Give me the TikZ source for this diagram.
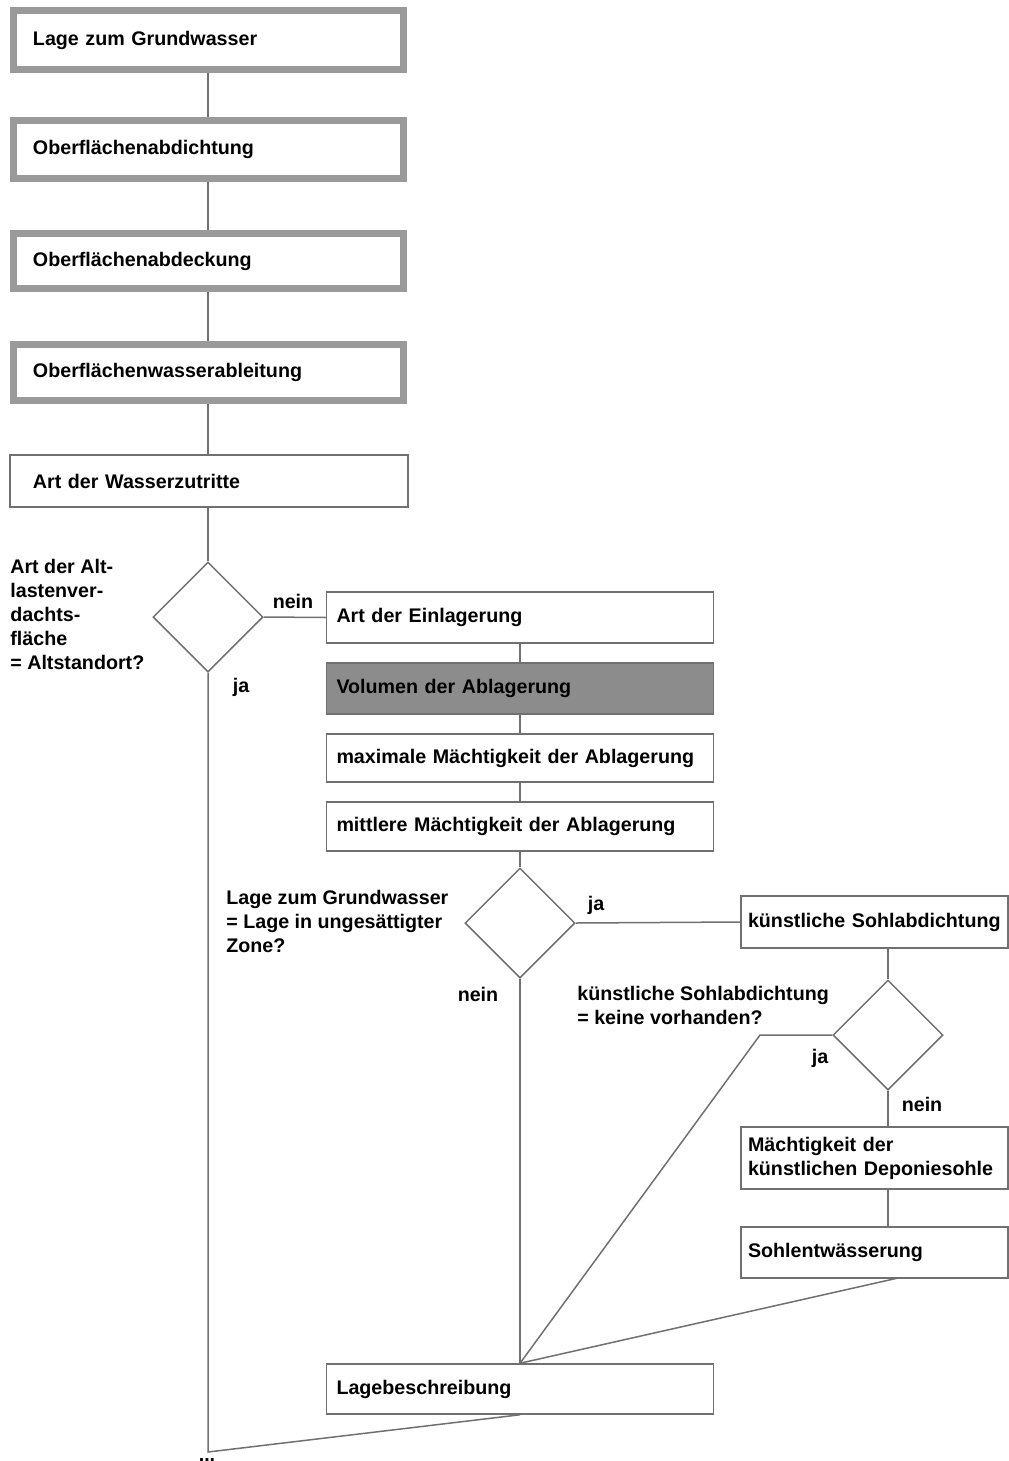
\documentclass[tikz,border=0pt]{standalone}
\usepackage{fontspec}
\setmainfont{Liberation Sans}
\usetikzlibrary{shapes.geometric}
\definecolor{framegray}{HTML}{9A9A9A}
\definecolor{linegray}{HTML}{707070}
\definecolor{fillgray}{HTML}{8C8C8C}
\begin{document}
\begin{tikzpicture}[x=0.2mm,y=-0.2mm,
	font=\fontsize{11.2}{13.6}\selectfont\bfseries,
	topbox/.style={
		rectangle, draw=framegray, line width=1.4mm, minimum height=11.6mm,
		text width=70.2mm, inner xsep=3.9mm, align=left
	},
	plainbox/.style={
		rectangle, draw=linegray, line width=0.3mm, minimum height=10.4mm,
		text width=70.4mm, inner xsep=4.6mm, align=left
	},
	midbox/.style={
		rectangle, draw=linegray, line width=0.3mm, minimum height=#1,
		text width=73.4mm, inner xsep=2mm, align=left
	},
	sidebox/.style={
		rectangle, draw=linegray, line width=0.3mm, minimum height=#1,
		text width=50.6mm, inner xsep=1.4mm, align=left
	},
	decision/.style={
		diamond, draw=linegray, line width=0.3mm, aspect=1,
		minimum size=22mm, inner sep=0pt
	},
	link/.style={draw=linegray, line width=0.3mm},
	note/.style={inner sep=0pt, align=left, anchor=north west}]
	% Frame of the page
	\useasboundingbox (0,0) rectangle (1009,1461);
	
	% Boxes of the left column
	\node[topbox] (LAGE) at (208.5,40) {Lage zum Grundwasser};
	\node[topbox] (ABDICHT) at (208.5,149.5) {Oberflächenabdichtung};
	\node[topbox, minimum height=11mm] (ABDECK) at (208.5,261) {Oberflächenabdeckung};
	\node[topbox, minimum height=11.2mm] (ABLEIT) at (208.5,372.5) {Oberflächenwasserableitung};
	\node[plainbox] (ZUTRITT) at (209,481) {Art der Wasserzutritte};
	
	% First question
	\node[decision] (Q1) at (208,617) {};
	\node[note] (Q1TEXT) at (10,559) {Art der Alt-\\lastenver-\\dachts-\\fläche\\= Altstandort?};
	\node (Q1NEIN) at (293,601) {nein};
	\node (Q1JA) at (241,687) {ja};
	
	% Boxes of the middle column
	\node[midbox=10.2mm] (EINLAG) at (520,617.5) {Art der Einlagerung};
	\node[midbox=10.2mm, fill=fillgray] (VOLUMEN) at (520,688.5) {Volumen der Ablagerung};
	\node[midbox=9.6mm] (MAXM) at (520,758) {maximale Mächtigkeit der Ablagerung};
	\node[midbox=9.8mm] (MITM) at (520,826.5) {mittlere Mächtigkeit der Ablagerung};
	\node[midbox=10mm] (LAGEBES) at (520,1389) {Lagebeschreibung};
	
	% Second question
	\node[decision] (Q2) at (520,923) {};
	\node[note] (Q2TEXT) at (226,890) {Lage zum Grundwasser\\= Lage in ungesättigter\\Zone?};
	\node (Q2JA) at (596,905) {ja};
	\node (Q2NEIN) at (478,994) {nein};
	
	% Boxes of the right column
	\node[sidebox=10.4mm] (SOHLAB) at (874.5,922) {künstliche Sohlabdichtung};
	\node[sidebox=12.4mm] (DEPSOHLE) at (874.5,1158) {Mächtigkeit der\\künstlichen Deponiesohle};
	\node[sidebox=10.2mm] (SOHLENTW) at (874.5,1252.5) {Sohlentwässerung};
	
	% Third question
	\node[decision] (Q3) at (888,1035) {};
	\node[note] (Q3TEXT) at (577,986) {künstliche Sohlabdichtung\\= keine vorhanden?};
	\node (Q3JA) at (820,1058) {ja};
	\node (Q3NEIN) at (922,1104) {nein};
	
	% Points where the lines meet
	\coordinate (BEND) at (760,1035);
	\coordinate (OUTLET) at (898,1278);
	\coordinate (CORNER) at (208,1452);
	\node[anchor=base] (DOTS) at (207,1461) {...};
	
	% Connectors
	\draw[link] (LAGE.south -| Q1.north) -- (ABDICHT.north -| Q1.north);
	\draw[link] (ABDICHT.south -| Q1.north) -- (ABDECK.north -| Q1.north);
	\draw[link] (ABDECK.south -| Q1.north) -- (ABLEIT.north -| Q1.north);
	\draw[link] (ABLEIT.south -| Q1.north) -- (ZUTRITT.north -| Q1.north);
	\draw[link] (ZUTRITT.south -| Q1.north) -- (Q1.north);
	\draw[link] (Q1.east) -- (EINLAG.west);
	\draw[link] (EINLAG) -- (VOLUMEN);
	\draw[link] (VOLUMEN) -- (MAXM);
	\draw[link] (MAXM) -- (MITM);
	\draw[link] (MITM) -- (Q2.north);
	\draw[link] (Q2.east) -- (SOHLAB.west);
	\draw[link] (Q2.south) -- (LAGEBES.north);
	\draw[link] (Q3.north |- SOHLAB.south) -- (Q3.north);
	\draw[link] (Q3.west) -- (BEND) -- (LAGEBES.north);
	\draw[link] (Q3.south) -- (Q3.south |- DEPSOHLE.north);
	\draw[link] (Q3.south |- DEPSOHLE.south) -- (Q3.south |- SOHLENTW.north);
	\draw[link] (OUTLET) -- (LAGEBES.north);
	\draw[link] (Q1.south) -- (CORNER) -- (LAGEBES.south);
\end{tikzpicture}
\end{document}
